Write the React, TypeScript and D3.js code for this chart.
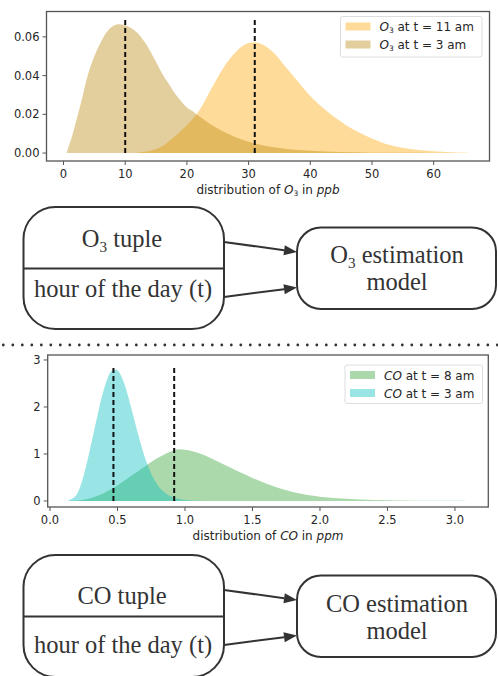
import React from "react";
import * as d3 from "d3";

// ---- O3 densities (ppb) ----
const o3At11X = [12, 14, 16, 18, 20, 22, 24, 26, 28, 30, 31, 32, 34, 36, 38, 40, 42, 44, 46, 48, 50, 52, 55, 58, 62, 65.6];
const o3At11Y = [0.0003, 0.0012, 0.0035, 0.0085, 0.0145, 0.022, 0.0335, 0.0445, 0.0525, 0.0568, 0.0572, 0.0565, 0.052, 0.0445, 0.037, 0.0295, 0.0235, 0.0183, 0.014, 0.0105, 0.0075, 0.005, 0.0028, 0.0014, 0.0005, 0.0001];
const o3At3X = [0.5, 1, 1.5, 2, 2.5, 3, 3.5, 4, 5, 6, 7, 8, 9, 10, 11, 12, 13, 14, 15, 16, 17, 18, 19, 20, 21, 22, 24, 26, 28, 30, 32, 35, 40, 45, 50, 55, 60, 65.6];
const o3At3Y = [0, 0.005, 0.01, 0.016, 0.022, 0.028, 0.035, 0.041, 0.05, 0.057, 0.0625, 0.0655, 0.0665, 0.066, 0.0645, 0.062, 0.058, 0.053, 0.047, 0.041, 0.036, 0.031, 0.027, 0.0235, 0.0215, 0.019, 0.0145, 0.011, 0.008, 0.0058, 0.0042, 0.0026, 0.0012, 0.0005, 0.0002, 0.0001, 0.00004, 0];
const o3Markers = [10, 31];
const o3XTicks = [0, 10, 20, 30, 40, 50, 60];
const o3YTicks = [0, 0.02, 0.04, 0.06];

// ---- CO densities (ppm) ----
const coAt8X = [0.15, 0.2, 0.3, 0.4, 0.5, 0.6, 0.7, 0.8, 0.9, 0.95, 1.0, 1.1, 1.2, 1.3, 1.4, 1.5, 1.6, 1.7, 1.8, 1.9, 2.0, 2.2, 2.4, 2.6, 2.8, 3.0, 3.1];
const coAt8Y = [0, 0.01, 0.06, 0.17, 0.33, 0.53, 0.73, 0.92, 1.06, 1.1, 1.09, 1.02, 0.9, 0.76, 0.62, 0.49, 0.37, 0.27, 0.19, 0.13, 0.09, 0.045, 0.022, 0.011, 0.006, 0.003, 0.002];
const coAt3X = [0.13, 0.15, 0.2, 0.25, 0.3, 0.35, 0.4, 0.45, 0.48, 0.5, 0.55, 0.6, 0.65, 0.7, 0.75, 0.8, 0.85, 0.9, 0.95, 1.0, 1.1, 1.2, 1.3];
const coAt3Y = [0, 0.03, 0.15, 0.55, 1.15, 1.8, 2.38, 2.75, 2.8, 2.78, 2.5, 2.0, 1.45, 0.95, 0.58, 0.33, 0.18, 0.09, 0.045, 0.02, 0.005, 0.001, 0];
const coMarkers = [0.47, 0.92];
const coXTicks = [0, 0.5, 1.0, 1.5, 2.0, 2.5, 3.0];
const coYTicks = [0, 1, 2, 3];

const TICK_FONT = "DejaVu Sans, sans-serif";
const SERIF = "Liberation Serif, Times New Roman, serif";
const INK = "#262626";
const FRAME = "#555";
const TICK_SIZE = 11.5;
const LABEL_SIZE = 12;

type Series = { xs: number[]; ys: number[]; color: string; opacity: number };

function Density(props: {
  left: number; right: number; top: number; bottom: number;
  xDomain: [number, number]; yDomain: [number, number];
  series: Series[]; markers: number[]; markerTop: number;
  xTicks: number[]; yTicks: number[]; xFmt: (v: number) => string; yFmt: (v: number) => string;
  label: React.ReactNode;
  legend: { x: number; y: number; w: number; h: number; rows: { color: string; opacity: number; text: React.ReactNode }[] };
}) {
  const { left, right, top, bottom } = props;
  const x = d3.scaleLinear().domain(props.xDomain).range([left, right]);
  const y = d3.scaleLinear().domain(props.yDomain).range([bottom, top]);
  const area = (s: Series) =>
    d3.area<number>()
      .x((_, i) => x(s.xs[i]))
      .y0(y(0))
      .y1((_, i) => y(s.ys[i]))
      .curve(d3.curveMonotoneX)(s.ys) as string;
  const lg = props.legend;
  return (
    <g>
      <rect x={left} y={top} width={right - left} height={bottom - top} fill="#fff" />
      {props.series.map((s, i) => (
        <path key={i} d={area(s)} fill={s.color} fillOpacity={s.opacity} />
      ))}
      {props.markers.map((m, i) => (
        <line key={i} x1={x(m)} x2={x(m)} y1={y(0)} y2={y(props.markerTop)}
          stroke="#111" strokeWidth={2} strokeDasharray="5,3" />
      ))}
      <rect x={left} y={top} width={right - left} height={bottom - top} fill="none" stroke={FRAME} strokeWidth={1.3} />
      {props.xTicks.map((t, i) => (
        <g key={i}>
          <line x1={x(t)} x2={x(t)} y1={bottom} y2={bottom + 4} stroke={FRAME} strokeWidth={1} />
          <text x={x(t)} y={bottom + 16.5} textAnchor="middle" fontFamily={TICK_FONT} fontSize={TICK_SIZE} fill={INK}>{props.xFmt(t)}</text>
        </g>
      ))}
      {props.yTicks.map((t, i) => (
        <g key={i}>
          <line x1={left - 4} x2={left} y1={y(t)} y2={y(t)} stroke={FRAME} strokeWidth={1} />
          <text x={left - 7} y={y(t) + 4} textAnchor="end" fontFamily={TICK_FONT} fontSize={TICK_SIZE} fill={INK}>{props.yFmt(t)}</text>
        </g>
      ))}
      <text x={(left + right) / 2} y={bottom + 32.5} textAnchor="middle" fontFamily={TICK_FONT} fontSize={LABEL_SIZE} fill={INK}>{props.label}</text>
      <rect x={lg.x} y={lg.y} width={lg.w} height={lg.h} rx={2} fill="#fff" fillOpacity={0.85} stroke="#ddd" />
      {lg.rows.map((r, i) => (
        <g key={i}>
          <rect x={lg.x + 5} y={lg.y + 6 + i * 18} width={25} height={8} fill={r.color} fillOpacity={r.opacity} />
          <text x={lg.x + 39} y={lg.y + 14.5 + i * 18} fontFamily={TICK_FONT} fontSize={LABEL_SIZE} fill={INK}>{r.text}</text>
        </g>
      ))}
    </g>
  );
}

function Sub3(props: { base: string; italic?: boolean; rest: string; size: number }) {
  return (
    <>
      <tspan fontStyle={props.italic ? "italic" : "normal"}>{props.base}</tspan>
      <tspan fontSize={props.size * 0.62} dy={props.size * 0.2}>3</tspan>
      <tspan dy={-props.size * 0.2}>{props.rest}</tspan>
    </>
  );
}

function Flow(props: { top: number; tupleLabel: React.ReactNode; modelLine1: React.ReactNode; t1: number; t2: number; m1: number; m2: number }) {
  const t = props.top;
  const lx = 23.5, lw = 200.5, lh = 122, split = 61.5;
  const rx = 297, rw = 199, rTop = t + 20.5, rh = 81.5;
  const arrows = [
    { x1: lx + lw, y1: t + 35, x2: rx, y2: t + 45 },
    { x1: lx + lw, y1: t + 90, x2: rx, y2: t + 80.5 },
  ];
  return (
    <g stroke="#333" fill="none">
      <rect x={lx} y={t} width={lw} height={lh} rx={32} strokeWidth={2} fill="#fff" />
      <line x1={lx} x2={lx + lw} y1={t + split} y2={t + split} strokeWidth={2} />
      <rect x={rx} y={rTop} width={rw} height={rh} rx={24} strokeWidth={2} fill="#fff" />
      {arrows.map((a, i) => {
        const ang = Math.atan2(a.y2 - a.y1, a.x2 - a.x1);
        const L = 13, W = 5;
        const bx = a.x2 - L * Math.cos(ang), by = a.y2 - L * Math.sin(ang);
        const px = -Math.sin(ang) * W, py = Math.cos(ang) * W;
        return (
          <g key={i}>
            <line x1={a.x1} y1={a.y1} x2={bx} y2={by} strokeWidth={2} />
            <path d={`M${a.x2},${a.y2}L${bx + px},${by + py}L${bx - px},${by - py}Z`} fill="#333" stroke="none" />
          </g>
        );
      })}
      <g stroke="none" fill="#333" fontFamily={SERIF} fontSize={24.5} textAnchor="middle">
        <text x={122} y={props.t1}>{props.tupleLabel}</text>
        <text x={123} y={props.t2}>hour of the day (t)</text>
        <text x={397} y={props.m1}>{props.modelLine1}</text>
        <text x={397} y={props.m2}>model</text>
      </g>
    </g>
  );
}

export default function App() {
  const dots = d3.range(3.3, 498, 9.5);
  return (
    <svg width={498} height={676} style={{ position: "absolute", left: 0, top: 0, background: "#fff" }}>
      <rect width={498} height={676} fill="#fff" />
      <Density
        left={46.5} right={489.5} top={11.5} bottom={161}
        xDomain={[-2.76, 69.05]} yDomain={[-0.0041, 0.0731]}
        series={[
          { xs: o3At11X, ys: o3At11Y, color: "#ffa500", opacity: 0.4 },
          { xs: o3At3X, ys: o3At3Y, color: "#b8860b", opacity: 0.4 },
        ]}
        markers={o3Markers} markerTop={0.069}
        xTicks={o3XTicks} yTicks={o3YTicks}
        xFmt={(v) => String(v)} yFmt={(v) => v.toFixed(2)}
        label={<><tspan>distribution of </tspan><Sub3 base="O" italic rest=" in " size={LABEL_SIZE} /><tspan fontStyle="italic">ppb</tspan></>}
        legend={{
          x: 340.5, y: 16.5, w: 141.5, h: 40.5,
          rows: [
            { color: "#ffa500", opacity: 0.4, text: <Sub3 base="O" italic rest=" at t = 11 am" size={LABEL_SIZE} /> },
            { color: "#b8860b", opacity: 0.4, text: <Sub3 base="O" italic rest=" at t = 3 am" size={LABEL_SIZE} /> },
          ],
        }}
      />
      <Flow top={207}
        tupleLabel={<Sub3 base="O" rest=" tuple" size={24.5} />}
        modelLine1={<Sub3 base="O" rest=" estimation" size={24.5} />}
        t1={247} t2={297} m1={263} m2={290} />
      {dots.map((d, i) => (
        <circle key={i} cx={d} cy={345} r={1.4} fill="#333" />
      ))}
      <Density
        left={47.7} right={488.3} top={355} bottom={507}
        xDomain={[-0.017, 3.247]} yDomain={[-0.128, 3.106]}
        series={[
          { xs: coAt8X, ys: coAt8Y, color: "#2ca02c", opacity: 0.4 },
          { xs: coAt3X, ys: coAt3Y, color: "#00bebe", opacity: 0.4 },
        ]}
        markers={coMarkers} markerTop={2.86}
        xTicks={coXTicks} yTicks={coYTicks}
        xFmt={(v) => v.toFixed(1)} yFmt={(v) => String(v)}
        label={<><tspan>distribution of </tspan><tspan fontStyle="italic">CO</tspan><tspan> in </tspan><tspan fontStyle="italic">ppm</tspan></>}
        legend={{
          x: 345, y: 365, w: 137.5, h: 38.5,
          rows: [
            { color: "#2ca02c", opacity: 0.4, text: <><tspan fontStyle="italic">CO</tspan><tspan> at t = 8 am</tspan></> },
            { color: "#00bebe", opacity: 0.4, text: <><tspan fontStyle="italic">CO</tspan><tspan> at t = 3 am</tspan></> },
          ],
        }}
      />
      <Flow top={555}
        tupleLabel="CO tuple"
        modelLine1="CO estimation"
        t1={604} t2={653} m1={612} m2={639} />
    </svg>
  );
}
